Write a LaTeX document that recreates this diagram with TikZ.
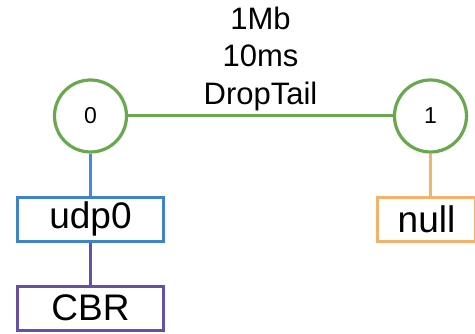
\documentclass[tikz,border=0pt]{standalone}
\usepackage{fontspec}
\setmainfont{Liberation Sans}
\usetikzlibrary{positioning}
\definecolor{LinkGreen}{HTML}{6AA84F}
\definecolor{AgentBlue}{HTML}{3D85C6}
\definecolor{LineBlue}{HTML}{4A86E8}
\definecolor{AppPurple}{HTML}{674EA7}
\definecolor{SinkOrange}{HTML}{F6B26B}
\tikzset{
  netnode/.style={circle, draw=LinkGreen, line width=3.2pt, minimum size=72pt, inner sep=0pt, font=\fontsize{23}{26}\selectfont},
  agentbox/.style={rectangle, line width=3pt, minimum width=146pt, minimum height=44pt, inner sep=0pt, font=\fontsize{37}{40}\selectfont},
  link/.style={draw=LinkGreen, line width=3pt},
  attach/.style={line width=3pt}
}
\begin{document}
\begin{tikzpicture}[x=1pt, y=-1pt, node distance=42pt]
\useasboundingbox (0,0) rectangle (475,334);
\node[netnode] (n0) at (90.5,116) {0};
\node[netnode] (n1) at (430.5,116) {1};
\node[agentbox, draw=AgentBlue, below=of n0] (udp) {udp0};
\node[agentbox, draw=AppPurple, below=of udp] (cbr) {CBR};
\node[agentbox, draw=SinkOrange, minimum width=98pt, below=of n1, xshift=-4pt] (sink) {null};
\draw[link] (n0) -- node[above=4pt, inner sep=0pt, align=center, font=\fontsize{31}{37.5}\selectfont] {1Mb\\10ms\\DropTail} (n1);
\draw[attach, LineBlue] (n0) -- (udp);
\draw[attach, AppPurple] (udp) -- (cbr);
\draw[attach, SinkOrange] (n1) -- (n1 |- sink.north);
\end{tikzpicture}
\end{document}
